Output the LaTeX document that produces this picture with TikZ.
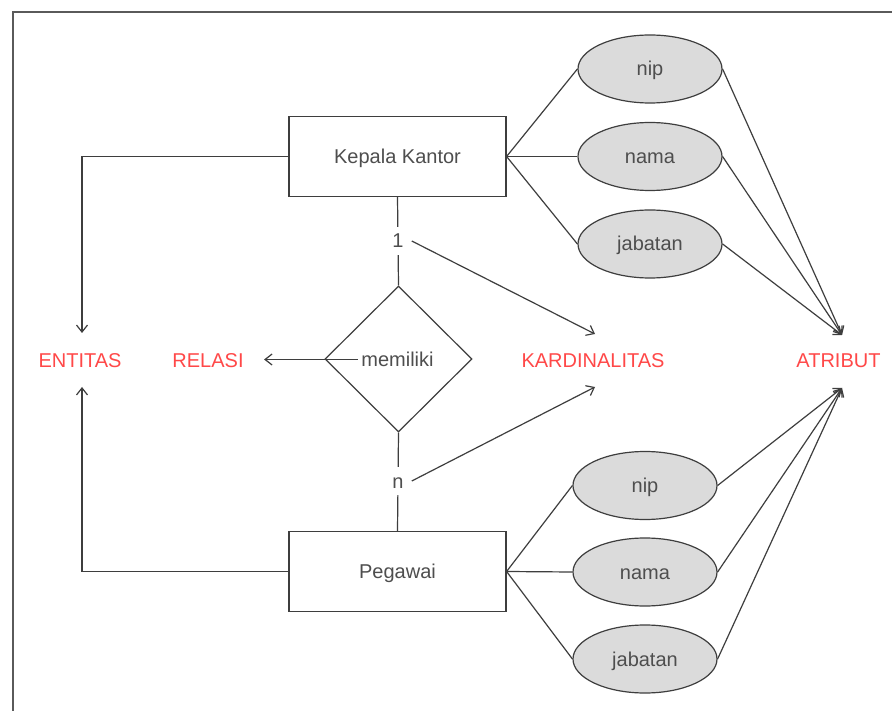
\documentclass[tikz,border=0pt]{standalone}
\usepackage{fontspec}
\setmainfont{Liberation Sans}
\usetikzlibrary{shapes.geometric,arrows.meta}
\definecolor{ink}{HTML}{3E3E3E}
\definecolor{txt}{HTML}{4E4E4E}
\definecolor{lbl}{HTML}{FF4848}
\definecolor{attrfill}{HTML}{DBDBDB}
\definecolor{frame}{HTML}{5A5A5A}

\begin{document}
\begin{tikzpicture}[x=1pt,y=-1pt,
  every node/.style={font=\fontsize{20}{23}\selectfont, text=txt, text height=14pt, text depth=0pt},
  line/.style={draw=ink, line width=1.2pt},
  arr/.style={line, -{Straight Barb[length=7pt,width=11pt]}},
  entity/.style={line, rectangle, minimum width=217pt, minimum height=80pt},
  attr/.style={line, ellipse, fill=attrfill, minimum width=144pt, minimum height=68pt, inner sep=0pt},
  rel/.style={line, diamond, minimum width=147pt, minimum height=146pt, inner sep=0pt},
  legend/.style={text=lbl},
  card/.style={fill=white, inner xsep=8pt, inner ysep=7pt}]

% page and frame
\fill[white] (0,0) rectangle (892,711);
\useasboundingbox (0,0) rectangle (892,711);
\draw[frame, line width=1.5pt] (892,12) -- (13,12) -- (13,711);

% legend labels
\node[legend] (entitas) at (80,361) {ENTITAS};
\node[legend] (relasi) at (208,361) {RELASI};
\node[legend] (kardinalitas) at (593,361) {KARDINALITAS};
\node[legend] (atribut) at (838.5,361) {ATRIBUT};

% arrow targets around the legend labels
\coordinate (entA) at (82,333);
\coordinate (entB) at (82,387);
\coordinate (karA) at (595,334);
\coordinate (karB) at (595,387);
\coordinate (atrA) at (842,335);
\coordinate (atrB) at (842,388);

% entities and relationship
\node[entity] (kepala) at (397.5,156.5) {Kepala Kantor};
\node[entity] (pegawai) at (397.5,571.5) {Pegawai};
\node[rel] (memiliki) at (398.5,359) {};
\node (memtext) at (397.5,359.5) {memiliki};

% attributes of Kepala Kantor
\node[attr] (nipA) at (650,69) {nip};
\node[attr] (namaA) at (650,156.5) {nama};
\node[attr] (jabA) at (650,244) {jabatan};

% attributes of Pegawai
\node[attr] (nipB) at (645,485.5) {nip};
\node[attr] (namaB) at (645,572) {nama};
\node[attr] (jabB) at (645,659) {jabatan};

% relationship lines with cardinalities
\draw[line] (kepala.south) -- (memiliki.north);
\draw[line] (memiliki.south) -- (pegawai.north);
\node[card] (one) at (398,241) {1};
\node[card] (many) at (398,481) {n};

% entity to attribute lines
\foreach \a in {nipA,namaA,jabA} \draw[line] (kepala.east) -- (\a.west);
\foreach \a in {nipB,namaB,jabB} \draw[line] (pegawai.east) -- (\a.west);

% legend arrows
\draw[arr] (kepala.west) -| (entA);
\draw[arr] (pegawai.west) -| (entB);
\draw[arr, shorten >=17pt] (memtext.west) -- (memtext.west -| relasi.east);
\draw[arr] (one.east) -- (karA);
\draw[arr] (many.east) -- (karB);
\foreach \a in {nipA,namaA,jabA} \draw[arr] (\a.east) -- (atrA);
\foreach \a in {nipB,namaB,jabB} \draw[arr] (\a.east) -- (atrB);
\end{tikzpicture}
\end{document}
